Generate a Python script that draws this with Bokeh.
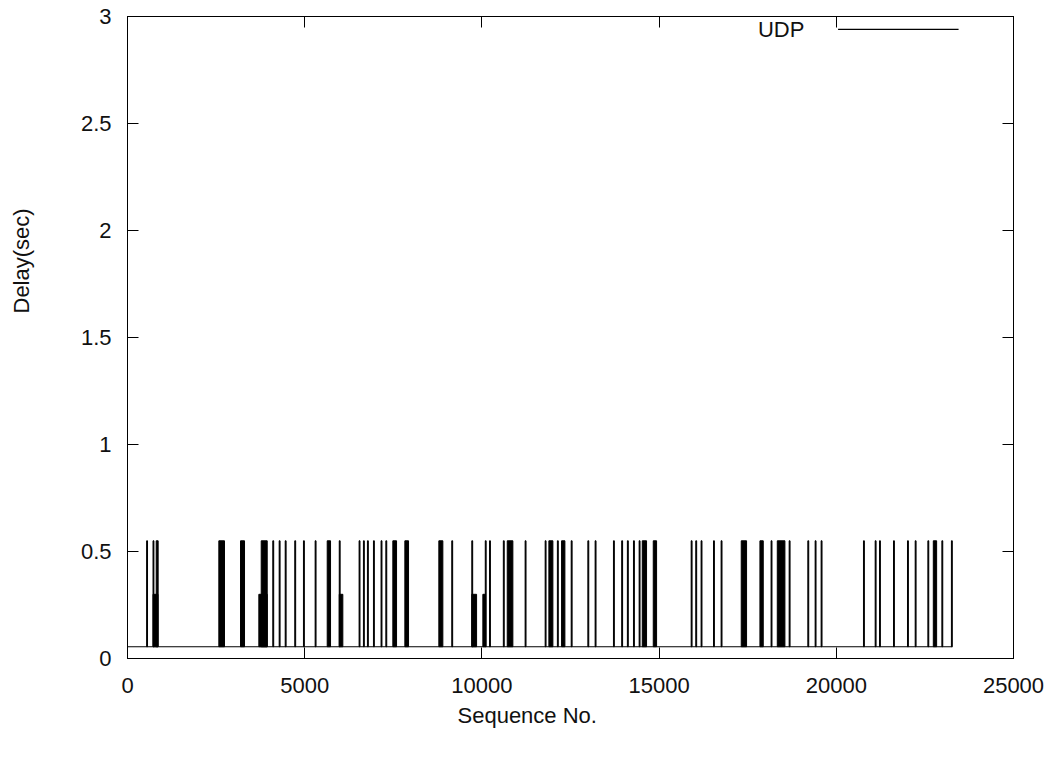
from bokeh.plotting import figure
from bokeh.models import Range1d, FixedTicker, LinearAxis, Label, Title, CustomJSTickFormatter
from bokeh.embed import file_html
from bokeh.resources import INLINE

# ---------------- data ----------------
series_name = "UDP"
x_label = "Sequence No."
y_label = "Delay(sec)"
x_ticks = [0, 5000, 10000, 15000, 20000, 25000]
y_ticks = [0, 0.5, 1, 1.5, 2, 2.5, 3]

base_delay = 0.055
seq_first = 0
seq_last = 23273

spike_start = [540, 720, 720, 810, 2577, 3189, 3706, 3773, 4100, 4280, 4450, 4720, 4965, 5295,
               5635, 5975, 5975, 6535, 6657, 6770, 6940, 7155, 7290, 7487, 7826, 8785, 9150,
               9715, 9715, 10027, 10095, 10215, 10605, 10715, 11220, 11785, 11890, 12130, 12248,
               12520, 12990, 13195, 13712, 13945, 14105, 14277, 14437, 14525, 14835, 15905,
               16035, 16185, 16535, 16750, 17318, 17845, 18160, 18335, 18670, 19197, 19403,
               19572, 20767, 21097, 21219, 21614, 22009, 22226, 22584, 22737, 22979, 23248]
spike_end = [565, 745, 860, 865, 2737, 3302, 3942, 3942, 4125, 4305, 4475, 4745, 4990, 5320,
             5729, 6000, 6076, 6560, 6682, 6795, 6965, 7180, 7315, 7592, 7930, 8898, 9175,
             9740, 9850, 10103, 10120, 10240, 10630, 10874, 11245, 11810, 12003, 12155, 12342,
             12545, 13015, 13220, 13737, 13970, 14130, 14302, 14462, 14646, 14929, 15930,
             16060, 16210, 16560, 16775, 17468, 17939, 18185, 18550, 18695, 19222, 19428,
             19597, 20792, 21122, 21244, 21639, 22034, 22251, 22609, 22831, 23004, 23273]
spike_delay = [0.55, 0.55, 0.30, 0.55, 0.55, 0.55, 0.30, 0.55, 0.55, 0.55, 0.55, 0.55, 0.55, 0.55,
               0.55, 0.55, 0.30, 0.55, 0.55, 0.55, 0.55, 0.55, 0.55, 0.55, 0.55, 0.55, 0.55,
               0.55, 0.30, 0.30, 0.55, 0.55, 0.55, 0.55, 0.55, 0.55, 0.55, 0.55, 0.55,
               0.55, 0.55, 0.55, 0.55, 0.55, 0.55, 0.55, 0.55, 0.55, 0.55, 0.55,
               0.55, 0.55, 0.55, 0.55, 0.55, 0.55, 0.55, 0.55, 0.55, 0.55, 0.55,
               0.55, 0.55, 0.55, 0.55, 0.55, 0.55, 0.55, 0.55, 0.55, 0.55, 0.55]

# legend placement (in data units of the plot)
legend_text_x = 19100
legend_text_y = 2.94
legend_line_x = [20050, 23450]
legend_line_y = [2.94, 2.94]

FONT = "Liberation Sans"
FS = "22px"
TXT = "#111111"
SHIFT = 40  # canvas is shifted left by this many pixels so the y title can sit near the edge

p = figure(width=1058 + SHIFT, height=774, output_backend="svg", toolbar_location=None,
           x_range=Range1d(0, 25000), y_range=Range1d(0, 3),
           min_border_left=127 + SHIFT, min_border_right=45, min_border_top=16, min_border_bottom=116,
           styles={"margin-left": f"-{SHIFT}px"})
p.background_fill_color = "white"
p.border_fill_color = "white"
p.outline_line_color = "black"
p.outline_line_width = 1
p.xgrid.visible = False
p.ygrid.visible = False

# baseline
p.line(x=[seq_first, seq_last], y=[base_delay, base_delay], line_color="black", line_width=1.2)
# spikes
p.quad(left=spike_start, right=spike_end, bottom=[base_delay] * len(spike_start), top=spike_delay,
       fill_color="black", line_color="black", line_width=1)

# legend
p.line(x=legend_line_x, y=legend_line_y, line_color="black", line_width=1.2)
p.add_layout(Label(x=legend_text_x, y=legend_text_y, text=series_name, text_align="right",
                   text_baseline="middle", text_font=FONT, text_font_size=FS, text_color=TXT))

def style_axis(ax, show_labels):
    ax.major_tick_in = 11
    ax.major_tick_out = 0
    ax.minor_tick_in = 0
    ax.minor_tick_out = 0
    ax.major_tick_line_color = "black"
    ax.axis_line_color = "black"
    ax.major_label_text_font = FONT
    ax.major_label_text_font_size = FS
    ax.major_label_text_color = TXT
    if not show_labels:
        ax.formatter = CustomJSTickFormatter(code="return ''")
        ax.major_label_standoff = 0

xa = p.xaxis[0]
ya = p.yaxis[0]
xa.ticker = FixedTicker(ticks=x_ticks)
ya.ticker = FixedTicker(ticks=y_ticks)
xa.major_label_overrides = {t: f"{t:g}" for t in x_ticks}
ya.major_label_overrides = {t: f"{t:g}" for t in y_ticks}
style_axis(xa, True)
style_axis(ya, True)
xa.major_label_standoff = 19
ya.major_label_standoff = 16

ra = LinearAxis(ticker=FixedTicker(ticks=y_ticks))
ta = LinearAxis(ticker=FixedTicker(ticks=x_ticks))
style_axis(ra, False)
style_axis(ta, False)
p.add_layout(ra, "right")
p.add_layout(ta, "above")

# axis titles as side titles (allows shifting along the axis)
xt = Title(text=x_label, align="left", offset=330, standoff=10, text_font=FONT,
           text_font_size=FS, text_font_style="normal", text_color=TXT)
yt = Title(text=y_label, align="left", offset=345, standoff=88, text_font=FONT,
           text_font_size=FS, text_font_style="normal", text_color=TXT)
p.add_layout(xt, "below")
p.add_layout(yt, "left")

open("out.html", "w").write(file_html(p, INLINE))
